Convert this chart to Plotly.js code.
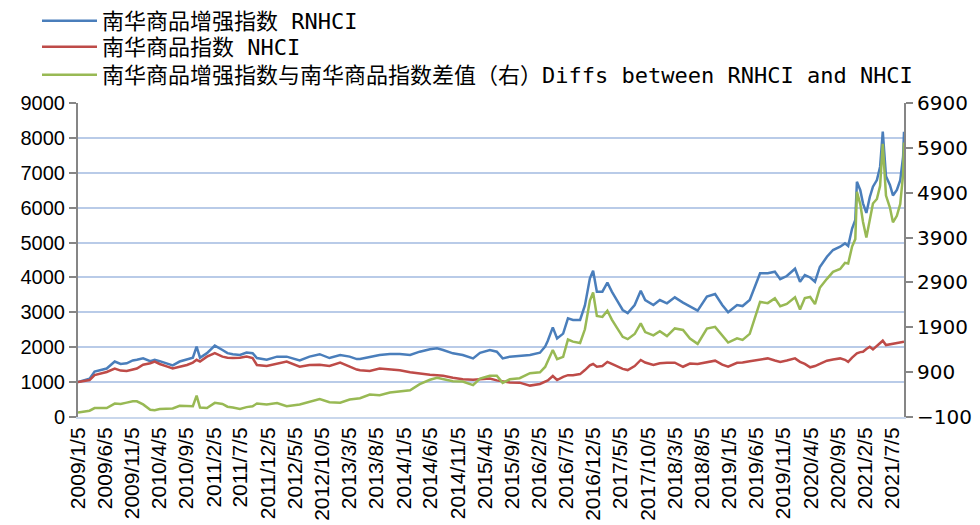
<!DOCTYPE html>
<html>
<head>
<meta charset="utf-8">
<script src="https://cdn.plot.ly/plotly-3.0.1.min.js"></script>
<style>
html,body{margin:0;padding:0;background:#fff;}
#chart{width:980px;height:525px;}
</style>
</head>
<body>
<div id="chart"></div>
<script>
// ---- Data ----
const dates = [
"2009-01-05","2009-02-08","2009-03-11","2009-04-08","2009-05-12","2009-06-15","2009-07-30","2009-09-01","2009-10-05","2009-11-08",
"2009-12-01","2010-01-05","2010-02-14","2010-03-11","2010-04-08","2010-05-17","2010-06-20","2010-07-29","2010-09-08","2010-10-11",
"2010-11-01","2010-11-20","2010-12-29","2011-02-11","2011-03-26","2011-04-23","2011-05-23","2011-07-02","2011-08-08","2011-09-11",
"2011-10-05","2011-11-29","2012-01-26","2012-03-20","2012-06-01","2012-07-26","2012-09-21","2012-11-15","2013-01-14","2013-03-08",
"2013-04-17","2013-05-05","2013-06-29","2013-08-23","2013-10-20","2013-12-14","2014-02-10","2014-04-05","2014-06-01","2014-07-11",
"2014-08-14","2014-10-08","2014-12-02","2015-01-29","2015-03-09","2015-05-03","2015-06-11","2015-07-14","2015-08-23","2015-10-17",
"2015-12-14","2016-02-08","2016-03-08","2016-03-23","2016-04-20","2016-05-14","2016-06-17","2016-07-14","2016-08-11","2016-09-20",
"2016-10-17","2016-11-14","2016-12-02","2016-12-23","2017-01-23","2017-02-20","2017-03-17","2017-04-14","2017-05-17","2017-06-14",
"2017-07-23","2017-08-26","2017-09-20","2017-11-05","2017-12-11","2018-01-20","2018-03-05","2018-04-20","2018-05-29","2018-07-11",
"2018-09-01","2018-10-17","2018-11-26","2018-12-29","2019-02-17","2019-03-20","2019-04-29","2019-05-17","2019-06-26","2019-08-08",
"2019-09-17","2019-10-17","2019-11-23","2020-01-08","2020-02-05","2020-03-03","2020-04-02","2020-04-29","2020-05-26","2020-07-05",
"2020-08-08","2020-09-17","2020-10-14","2020-11-01","2020-11-23","2020-12-11","2020-12-20","2021-01-08","2021-01-23","2021-02-11",
"2021-03-02","2021-03-20","2021-04-11","2021-04-29","2021-05-14","2021-06-01","2021-06-23","2021-07-10","2021-08-01","2021-08-20",
"2021-09-05","2021-09-10"
];

// 南华商品增强指数 RNHCI (left axis)
const rnhci = [
1000,1050,1100,1300,1350,1390,1590,1520,1540,1620,
1640,1680,1600,1640,1600,1540,1480,1590,1640,1700,
2015,1700,1830,2045,1920,1830,1800,1780,1850,1830,
1690,1640,1730,1730,1620,1730,1800,1690,1777,1730,
1660,1660,1720,1777,1806,1806,1777,1872,1940,1968,
1920,1825,1777,1680,1840,1920,1872,1680,1730,1750,
1777,1843,2016,2187,2570,2250,2390,2828,2780,2780,
3200,3975,4193,3592,3592,3850,3592,3353,3067,2980,
3210,3620,3353,3210,3353,3258,3430,3280,3180,3050,
3450,3525,3210,3000,3210,3180,3353,3592,4118,4118,
4165,3950,4040,4250,3878,4070,4000,3878,4300,4595,
4786,4881,4976,4900,5400,5646,6744,6500,6125,5850,
6300,6600,6790,7175,8177,6900,6650,6350,6506,6790,
7460,8177
];

// 南华商品指数 NHCI (left axis)
const nhci = [
1000,1030,1060,1200,1250,1290,1390,1330,1320,1370,
1390,1500,1540,1590,1520,1450,1390,1440,1490,1560,
1640,1590,1730,1830,1730,1700,1690,1700,1730,1690,
1490,1460,1520,1590,1440,1490,1500,1460,1557,1440,
1360,1340,1320,1390,1360,1340,1280,1240,1210,1195,
1180,1127,1085,1070,1085,1100,1050,1020,990,985,
900,946,1000,1050,1175,1060,1150,1200,1200,1230,
1345,1480,1519,1440,1460,1580,1520,1460,1380,1345,
1460,1634,1560,1490,1540,1555,1555,1440,1530,1520,
1580,1615,1500,1440,1555,1560,1600,1615,1653,1680,
1620,1580,1620,1680,1580,1520,1424,1460,1520,1615,
1650,1680,1640,1580,1700,1780,1825,1860,1870,1950,
2015,1940,2030,2120,2187,2063,2080,2110,2120,2140,
2150,2158
];

// 南华商品增强指数与南华商品指数差值（右） (right axis)
const diffs = [
0,20,40,100,100,100,200,190,220,250,
250,180,60,50,80,90,90,150,150,140,
375,110,100,215,190,130,110,80,120,140,
200,180,210,140,180,240,300,230,220,290,
300,320,400,387,446,466,497,632,730,773,
740,698,692,610,755,820,822,660,740,765,
877,897,1016,1137,1395,1190,1240,1628,1580,1550,
1855,2495,2674,2152,2132,2270,2072,1893,1687,1635,
1750,1986,1793,1720,1813,1703,1875,1840,1650,1530,
1870,1910,1710,1560,1655,1620,1753,1977,2465,2438,
2545,2370,2420,2570,2298,2550,2576,2418,2780,2980,
3136,3201,3336,3320,3700,3866,4919,4640,4255,3900,
4285,4660,4760,5055,5990,4837,4570,4240,4386,4650,
5310,6019
];

const seriesNames = [
"南华商品增强指数 RNHCI",
"南华商品指数 NHCI",
"南华商品增强指数与南华商品指数差值（右）Diffs between RNHCI and NHCI"
];

const tickLabels = [
"2009/1/5","2009/6/5","2009/11/5","2010/4/5","2010/9/5","2011/2/5","2011/7/5","2011/12/5",
"2012/5/5","2012/10/5","2013/3/5","2013/8/5","2014/1/5","2014/6/5","2014/11/5","2015/4/5",
"2015/9/5","2016/2/5","2016/7/5","2016/12/5","2017/5/5","2017/10/5","2018/3/5","2018/8/5",
"2019/1/5","2019/6/5","2019/11/5","2020/4/5","2020/9/5","2021/2/5","2021/7/5"
];

const leftTicks = [0,1000,2000,3000,4000,5000,6000,7000,8000,9000];
const rightTicks = [-100,900,1900,2900,3900,4900,5900,6900];

// ---- Build ----
const pad = n => (n < 10 ? "0" : "") + n;
const tickVals = tickLabels.map(s => {
  const p = s.split("/");
  return p[0] + "-" + pad(+p[1]) + "-" + pad(+p[2]);
});

const lineW = 2.5;
const traces = [
  {x: dates, y: rnhci, name: seriesNames[0], type: "scatter", mode: "lines",
   line: {color: "#4a7ebb", width: lineW}, yaxis: "y", legend: "legend"},
  {x: dates, y: nhci, name: seriesNames[1], type: "scatter", mode: "lines",
   line: {color: "#be4b48", width: lineW}, yaxis: "y", legend: "legend2"},
  {x: dates, y: diffs, name: seriesNames[2], type: "scatter", mode: "lines",
   line: {color: "#98b954", width: lineW}, yaxis: "y2", legend: "legend3"}
];

const axisGray = "#868686";
const legendFont = {family: "DejaVu Sans Mono, Noto Sans CJK SC, sans-serif", size: 22, color: "#000"};
function legendAt(topPx) {
  return {
    x: 37/980, xref: "container", xanchor: "left",
    y: 1 - topPx/525, yref: "container", yanchor: "top",
    itemwidth: 55, borderwidth: 0, bgcolor: "rgba(0,0,0,0)",
    font: legendFont
  };
}

const layout = {
  width: 980, height: 525,
  paper_bgcolor: "#ffffff", plot_bgcolor: "#ffffff",
  margin: {l: 78, r: 76, t: 103, b: 108, pad: 0, autoexpand: false},
  showlegend: true,
  legend: legendAt(-2),
  legend2: legendAt(26),
  legend3: legendAt(54),
  xaxis: {
    type: "date",
    range: ["2009-01-05", "2021-09-10"],
    tickmode: "array", tickvals: tickVals, ticktext: tickLabels,
    tickangle: -90,
    tickfont: {family: "Liberation Sans, Arial, sans-serif", size: 21, color: "#000"},
    showgrid: false, zeroline: false,
    showline: true, linecolor: "#c9d7ec", linewidth: 2,
    ticks: "", automargin: false
  },
  yaxis: {
    range: [0, 9000],
    tickmode: "array", tickvals: leftTicks,
    tickfont: {family: "Liberation Sans, Arial, sans-serif", size: 20, color: "#000"},
    showgrid: true, gridcolor: "#b9cbe8", gridwidth: 2,
    zeroline: false,
    showline: true, linecolor: axisGray, linewidth: 2,
    ticks: "outside", ticklen: 7, tickcolor: axisGray, tickwidth: 2,
    automargin: false
  },
  yaxis2: {
    overlaying: "y", side: "right",
    range: [-100, 6900],
    tickmode: "array", tickvals: rightTicks,
    tickfont: {family: "DejaVu Sans, sans-serif", size: 20, color: "#000"},
    showgrid: false, zeroline: false,
    showline: true, linecolor: axisGray, linewidth: 2,
    ticks: "outside", ticklen: 7, tickcolor: axisGray, tickwidth: 2,
    automargin: false
  }
};

Plotly.newPlot("chart", traces, layout, {displayModeBar: false, staticPlot: true});
</script>
</body>
</html>
